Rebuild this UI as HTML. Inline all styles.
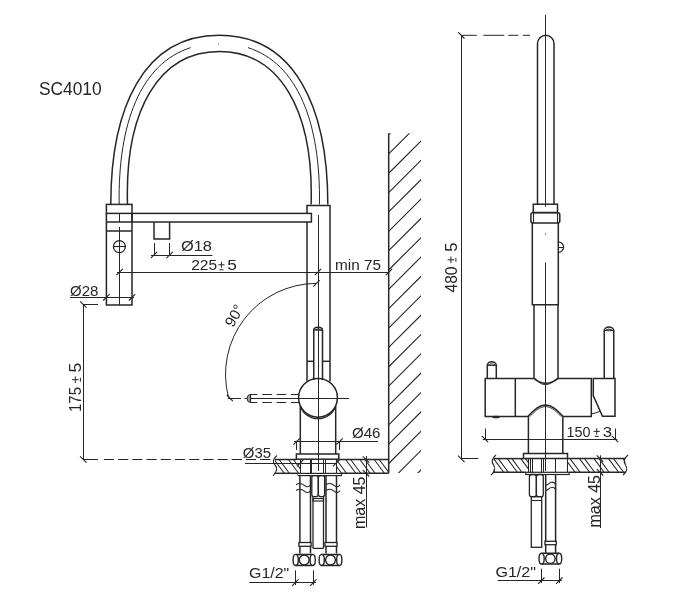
<!DOCTYPE html>
<html><head><meta charset="utf-8"><style>
html,body{margin:0;padding:0;background:#fff;width:675px;height:600px;overflow:hidden}
svg{display:block}
text{font-family:"Liberation Sans",sans-serif}
</style></head><body>
<svg style="will-change:transform" width="675" height="600" viewBox="0 0 675 600">
<rect width="675" height="600" fill="#fff"/>
<path d="M110.80,204.50 C110.69,107.68 143.65,35.30 219.30,35.30 C294.95,35.30 327.91,107.68 327.80,204.50" fill="none" stroke="#262626" stroke-width="1.5" />
<path d="M127.50,204.50 C124.65,109.51 159.29,51.50 219.30,51.50 C279.31,51.50 313.95,109.51 311.10,204.50" fill="none" stroke="#262626" stroke-width="1.5" />
<path d="M119.15,204.50 C117.89,122.88 140.82,63.51 190.64,47.63" fill="none" stroke="#262626" stroke-width="1.0" />
<path d="M247.96,47.63 C297.78,63.51 320.71,122.88 319.45,204.50" fill="none" stroke="#262626" stroke-width="1.0" />
<circle cx="218.4" cy="43.7" r="0.5" fill="#262626"/>
<rect x="106.40" y="204.40" width="25.60" height="9.00" rx="0" fill="none" stroke="#262626" stroke-width="1.5"/>
<path d="M106.4,213.4 V305 H132 V213.4" fill="none" stroke="#262626" stroke-width="1.5" />
<line x1="106.40" y1="222.00" x2="132.00" y2="222.00" stroke="#262626" stroke-width="1.5" />
<line x1="106.40" y1="231.00" x2="132.00" y2="231.00" stroke="#262626" stroke-width="1.5" />
<line x1="119.50" y1="213.40" x2="119.50" y2="222.00" stroke="#262626" stroke-width="1.0" />
<line x1="119.50" y1="227.00" x2="119.50" y2="305.00" stroke="#262626" stroke-width="1.0" />
<circle cx="119.4" cy="246.6" r="6" fill="none" stroke="#262626" stroke-width="1.3"/>
<line x1="113.40" y1="246.50" x2="125.40" y2="246.50" stroke="#262626" stroke-width="1.1" />
<rect x="132.00" y="213.40" width="179.40" height="8.60" rx="0" fill="none" stroke="#262626" stroke-width="1.5"/>
<path d="M154,222 V239 H169.6 V222" fill="none" stroke="#262626" stroke-width="1.5" />
<path d="M307,213.4 V205.4 H330 V381.5" fill="none" stroke="#262626" stroke-width="1.5" />
<path d="M307,222 V381" fill="none" stroke="#262626" stroke-width="1.5" />
<line x1="318.50" y1="215.00" x2="318.50" y2="471.00" stroke="#262626" stroke-width="1.0" />
<line x1="307.00" y1="361.30" x2="313.75" y2="361.30" stroke="#262626" stroke-width="1.5" />
<line x1="322.50" y1="361.30" x2="330.00" y2="361.30" stroke="#262626" stroke-width="1.5" />
<path d="M313.75,380 V330 A4.375,2.8 0 0 1 322.5,330 V380" fill="none" stroke="#262626" stroke-width="1.5" />
<path d="M314.2,330.2 Q318.1,327.6 322,330.2 Z" fill="none" stroke="#262626" stroke-width="1.0" />
<circle cx="318" cy="397.8" r="19.4" fill="none" stroke="#262626" stroke-width="1.5"/>
<path d="M300.3,406 A18.7,18.7 0 0 0 335.7,406" fill="none" stroke="#262626" stroke-width="1.3" />
<line x1="245.50" y1="398.50" x2="349.00" y2="398.50" stroke="#262626" stroke-width="1.0" />
<path d="M250.6,394.5 H298.8" fill="none" stroke="#262626" stroke-width="1.1" stroke-dasharray="6.7 4.9 9.6 4.8 9.6 4.8 9.6 4.8 9.6"/>
<path d="M250.6,402.5 H298.8" fill="none" stroke="#262626" stroke-width="1.1" stroke-dasharray="6.7 4.9 9.6 4.8 9.6 4.8 9.6 4.8 9.6"/>
<path d="M250.6,394.5 A3.5,4 0 0 0 250.6,402.5 Z" fill="#a0a0a0" stroke="#262626" stroke-width="1.0" />
<line x1="250.50" y1="394.50" x2="250.50" y2="402.50" stroke="#262626" stroke-width="1.0" />
<path d="M300.3,406 V454" fill="none" stroke="#262626" stroke-width="1.5" />
<path d="M335.7,406 V454" fill="none" stroke="#262626" stroke-width="1.5" />
<path d="M316.5,283.4 A91,91 0 0 0 228.5,397.5" fill="none" stroke="#262626" stroke-width="1.0" />
<line x1="313.30" y1="286.60" x2="319.70" y2="280.20" stroke="#262626" stroke-width="1.1" />
<line x1="226.80" y1="395.00" x2="232.80" y2="401.00" stroke="#262626" stroke-width="1.1" />
<line x1="228.00" y1="398.50" x2="241.00" y2="398.50" stroke="#262626" stroke-width="1.0" />
<line x1="244.50" y1="398.50" x2="246.50" y2="398.50" stroke="#262626" stroke-width="1.0" />
<text x="0" y="0" font-size="15" fill="#1e1e1e" transform="translate(233,328) rotate(-60)">90°</text>
<line x1="154.50" y1="243.00" x2="154.50" y2="256.00" stroke="#262626" stroke-width="1.0" />
<line x1="169.50" y1="243.00" x2="169.50" y2="256.00" stroke="#262626" stroke-width="1.0" />
<line x1="151.00" y1="255.50" x2="212.40" y2="255.50" stroke="#262626" stroke-width="1.0" />
<line x1="150.80" y1="258.20" x2="157.20" y2="251.80" stroke="#262626" stroke-width="1.1" />
<line x1="166.40" y1="258.20" x2="172.80" y2="251.80" stroke="#262626" stroke-width="1.1" />
<text x="181" y="250.6" font-size="14.5" fill="#262626" text-anchor="start" textLength="31" lengthAdjust="spacingAndGlyphs">Ø18</text>
<line x1="117.00" y1="272.50" x2="389.00" y2="272.50" stroke="#262626" stroke-width="1.0" />
<line x1="116.40" y1="275.20" x2="122.80" y2="268.80" stroke="#262626" stroke-width="1.1" />
<line x1="314.80" y1="275.20" x2="321.20" y2="268.80" stroke="#262626" stroke-width="1.1" />
<line x1="385.80" y1="275.20" x2="392.20" y2="268.80" stroke="#262626" stroke-width="1.1" />
<text x="191.2" y="269.8" font-size="15" fill="#262626" text-anchor="start" textLength="26" lengthAdjust="spacingAndGlyphs">225</text>
<path d="M218.35,264.80 H224.55 M221.45,261.70 V267.90 M219.45,269.80 H223.45" stroke="#262626" stroke-width="1.0" fill="none"/>
<text x="227.3" y="269.8" font-size="15" fill="#262626" text-anchor="start" textLength="9.6" lengthAdjust="spacingAndGlyphs">5</text>
<text x="335" y="270" font-size="15" fill="#262626" text-anchor="start" textLength="46" lengthAdjust="spacingAndGlyphs">min 75</text>
<line x1="70.00" y1="297.50" x2="134.00" y2="297.50" stroke="#262626" stroke-width="1.0" />
<line x1="103.20" y1="300.50" x2="109.60" y2="294.10" stroke="#262626" stroke-width="1.1" />
<line x1="128.80" y1="300.50" x2="135.20" y2="294.10" stroke="#262626" stroke-width="1.1" />
<text x="70" y="296" font-size="14.5" fill="#262626" text-anchor="start" textLength="28.3" lengthAdjust="spacingAndGlyphs">Ø28</text>
<line x1="83.50" y1="304.50" x2="83.50" y2="459.50" stroke="#262626" stroke-width="1.0" />
<line x1="83.30" y1="304.50" x2="98.00" y2="304.50" stroke="#262626" stroke-width="1.0" />
<line x1="80.10" y1="301.30" x2="86.50" y2="307.70" stroke="#262626" stroke-width="1.1" />
<line x1="80.10" y1="456.30" x2="86.50" y2="462.70" stroke="#262626" stroke-width="1.1" />
<text x="81" y="412" font-size="16" fill="#262626" text-anchor="start" textLength="25" lengthAdjust="spacingAndGlyphs" transform="rotate(-90 81 412)">175</text>
<path d="M72.00,379.70 H78.60 M75.30,376.40 V383.00 M73.30,384.80 H77.30" stroke="#262626" stroke-width="1.0" fill="none" transform="rotate(-90 75.3 379.7)"/>
<text x="81" y="372.4" font-size="16" fill="#262626" text-anchor="start" textLength="9.8" lengthAdjust="spacingAndGlyphs" transform="rotate(-90 81 372.4)">5</text>
<path d="M83.3,459.5 H274" fill="none" stroke="#262626" stroke-width="1.2" stroke-dasharray="14.7 5.9 10.2 4.0 10.2 4.0 10.2 4.0 10.2 4.0 10.2 4.0 10.2 4.0 10.2 4.0 10.2 4.0 10.2 4.0 10.2 4.0 10.2 4.0 10.2 4.0 10.2 4.0"/>
<line x1="294.00" y1="441.50" x2="378.00" y2="441.50" stroke="#262626" stroke-width="1.0" />
<line x1="296.50" y1="441.00" x2="296.50" y2="450.00" stroke="#262626" stroke-width="1.0" />
<line x1="339.50" y1="441.00" x2="339.50" y2="450.00" stroke="#262626" stroke-width="1.0" />
<line x1="293.40" y1="444.70" x2="299.80" y2="438.30" stroke="#262626" stroke-width="1.1" />
<line x1="336.30" y1="444.70" x2="342.70" y2="438.30" stroke="#262626" stroke-width="1.1" />
<text x="352" y="437.8" font-size="14.5" fill="#262626" text-anchor="start" textLength="28.5" lengthAdjust="spacingAndGlyphs">Ø46</text>
<text x="242.8" y="457.8" font-size="14.5" fill="#262626" text-anchor="start" textLength="28.2" lengthAdjust="spacingAndGlyphs">Ø35</text>
<line x1="245.00" y1="463.50" x2="336.00" y2="463.50" stroke="#262626" stroke-width="1.0" />
<line x1="296.80" y1="466.40" x2="303.20" y2="460.00" stroke="#262626" stroke-width="1.1" />
<line x1="332.80" y1="466.40" x2="339.20" y2="460.00" stroke="#262626" stroke-width="1.1" />
<clipPath id="c73"><rect x="274.8" y="459.5" width="25.20" height="13.80"/></clipPath>
<path d="M259.80,459.50 L270.01,473.30 M264.80,459.50 L275.01,473.30 M274.10,459.50 L284.31,473.30 M279.10,459.50 L289.31,473.30 M288.40,459.50 L298.61,473.30 M293.40,459.50 L303.61,473.30" stroke="#262626" stroke-width="1.05" fill="none" clip-path="url(#c73)"/>
<clipPath id="c75"><rect x="336" y="459.5" width="52.70" height="13.80"/></clipPath>
<path d="M317.00,459.50 L327.21,473.30 M322.00,459.50 L332.21,473.30 M331.30,459.50 L341.51,473.30 M336.30,459.50 L346.51,473.30 M345.60,459.50 L355.81,473.30 M350.60,459.50 L360.81,473.30 M359.90,459.50 L370.11,473.30 M364.90,459.50 L375.11,473.30 M374.20,459.50 L384.41,473.30 M379.20,459.50 L389.41,473.30 M388.50,459.50 L398.71,473.30 M393.50,459.50 L403.71,473.30" stroke="#262626" stroke-width="1.05" fill="none" clip-path="url(#c75)"/>
<line x1="274.80" y1="459.50" x2="296.40" y2="459.50" stroke="#262626" stroke-width="1.5" />
<line x1="338.80" y1="459.50" x2="388.70" y2="459.50" stroke="#262626" stroke-width="1.5" />
<line x1="274.80" y1="473.30" x2="298.20" y2="473.30" stroke="#262626" stroke-width="1.5" />
<line x1="341.40" y1="473.30" x2="388.70" y2="473.30" stroke="#262626" stroke-width="1.5" />
<line x1="300.50" y1="459.50" x2="300.50" y2="473.30" stroke="#262626" stroke-width="1.1" />
<line x1="336.50" y1="459.50" x2="336.50" y2="473.30" stroke="#262626" stroke-width="1.1" />
<path d="M277,455.5 Q271,461 275,465 Q279,469 273,476" fill="none" stroke="#262626" stroke-width="1.1" />
<rect x="296.40" y="454.00" width="42.40" height="5.20" rx="0" fill="none" stroke="#262626" stroke-width="1.5"/>
<line x1="310.50" y1="459.50" x2="310.50" y2="473.30" stroke="#262626" stroke-width="1.0" />
<line x1="311.50" y1="459.50" x2="311.50" y2="473.30" stroke="#262626" stroke-width="1.0" />
<line x1="323.50" y1="459.50" x2="323.50" y2="473.30" stroke="#262626" stroke-width="1.0" />
<line x1="325.50" y1="459.50" x2="325.50" y2="473.30" stroke="#262626" stroke-width="1.0" />
<rect x="298.20" y="473.40" width="43.20" height="2.20" rx="0" fill="none" stroke="#262626" stroke-width="1.2"/>
<rect x="311.80" y="475.70" width="6.40" height="20.90" rx="2" fill="none" stroke="#262626" stroke-width="1.3"/>
<rect x="318.40" y="475.70" width="6.20" height="20.90" rx="2" fill="none" stroke="#262626" stroke-width="1.3"/>
<line x1="313.00" y1="496.60" x2="313.00" y2="548.40" stroke="#262626" stroke-width="1.3" />
<line x1="323.50" y1="496.60" x2="323.50" y2="548.40" stroke="#262626" stroke-width="1.3" />
<line x1="313.00" y1="548.40" x2="323.50" y2="548.40" stroke="#262626" stroke-width="1.3" />
<rect x="313.00" y="498.50" width="10.50" height="2.50" rx="0" fill="none" stroke="#262626" stroke-width="1.2"/>
<line x1="299.90" y1="475.60" x2="299.90" y2="553.50" stroke="#262626" stroke-width="1.5" />
<line x1="310.50" y1="475.60" x2="310.50" y2="553.50" stroke="#262626" stroke-width="1.5" />
<rect x="298.90" y="542.50" width="12.10" height="3.80" rx="0" fill="#fff" stroke="#262626" stroke-width="1.3"/>
<line x1="326.00" y1="475.60" x2="326.00" y2="553.50" stroke="#262626" stroke-width="1.5" />
<line x1="336.50" y1="475.60" x2="336.50" y2="553.50" stroke="#262626" stroke-width="1.5" />
<rect x="325.00" y="542.50" width="12.00" height="3.80" rx="0" fill="#fff" stroke="#262626" stroke-width="1.3"/>
<path d="M296.00,484.80 c3.62,-2.5 6.53,-1 8.70,0.8 s4.35,1.5 5.80,-0.8" fill="none" stroke="#262626" stroke-width="1.1" />
<path d="M296.00,490.50 c3.62,-2.5 6.53,-1 8.70,0.8 s4.35,1.5 5.80,-0.8" fill="none" stroke="#262626" stroke-width="1.1" />
<path d="M326.00,484.80 c3.50,-2.5 6.30,-1 8.40,0.8 s4.20,1.5 5.60,-0.8" fill="none" stroke="#262626" stroke-width="1.1" />
<path d="M326.00,490.50 c3.50,-2.5 6.30,-1 8.40,0.8 s4.20,1.5 5.60,-0.8" fill="none" stroke="#262626" stroke-width="1.1" />
<path d="M295.70,554.4 H312.70 M295.70,565.5 H312.70" fill="none" stroke="#262626" stroke-width="1.5" />
<ellipse cx="295.70" cy="559.95" rx="2.6" ry="5.55" fill="none" stroke="#262626" stroke-width="1.4"/>
<ellipse cx="312.70" cy="559.95" rx="2.6" ry="5.55" fill="none" stroke="#262626" stroke-width="1.4"/>
<circle cx="304.20000000000005" cy="559.95" r="4.9" fill="none" stroke="#262626" stroke-width="1.4"/>
<path d="M321.70,554.4 H339.30 M321.70,565.5 H339.30" fill="none" stroke="#262626" stroke-width="1.5" />
<ellipse cx="321.70" cy="559.95" rx="2.6" ry="5.55" fill="none" stroke="#262626" stroke-width="1.4"/>
<ellipse cx="339.30" cy="559.95" rx="2.6" ry="5.55" fill="none" stroke="#262626" stroke-width="1.4"/>
<circle cx="330.5" cy="559.95" r="4.9" fill="none" stroke="#262626" stroke-width="1.4"/>
<text x="249" y="578" font-size="15" fill="#262626" text-anchor="start" textLength="40.3" lengthAdjust="spacingAndGlyphs">G1/2"</text>
<line x1="249.30" y1="582.50" x2="316.00" y2="582.50" stroke="#262626" stroke-width="1.0" />
<line x1="295.50" y1="570.30" x2="295.50" y2="585.00" stroke="#262626" stroke-width="1.0" />
<line x1="313.50" y1="570.30" x2="313.50" y2="585.00" stroke="#262626" stroke-width="1.0" />
<line x1="292.10" y1="585.80" x2="298.50" y2="579.40" stroke="#262626" stroke-width="1.1" />
<line x1="310.10" y1="585.80" x2="316.50" y2="579.40" stroke="#262626" stroke-width="1.1" />
<line x1="366.50" y1="456.00" x2="366.50" y2="527.50" stroke="#262626" stroke-width="1.0" />
<line x1="362.80" y1="456.30" x2="369.20" y2="462.70" stroke="#262626" stroke-width="1.1" />
<line x1="362.80" y1="470.10" x2="369.20" y2="476.50" stroke="#262626" stroke-width="1.1" />
<text x="364.5" y="529" font-size="16.2" fill="#262626" text-anchor="start" textLength="52.5" lengthAdjust="spacingAndGlyphs" transform="rotate(-90 364.5 529)">max 45</text>
<clipPath id="wall"><rect x="388.7" y="133.3" width="32.3" height="339.7"/></clipPath>
<path d="M388.7,134.55 l40,-40 M388.7,153.90 l40,-40 M388.7,173.25 l40,-40 M388.7,192.60 l40,-40 M388.7,211.95 l40,-40 M388.7,231.30 l40,-40 M388.7,250.65 l40,-40 M388.7,270.00 l40,-40 M388.7,289.35 l40,-40 M388.7,308.70 l40,-40 M388.7,328.05 l40,-40 M388.7,347.40 l40,-40 M388.7,366.75 l40,-40 M388.7,386.10 l40,-40 M388.7,405.45 l40,-40 M388.7,424.80 l40,-40 M388.7,444.15 l40,-40 M388.7,463.50 l40,-40 M388.7,482.85 l40,-40 M388.7,502.20 l40,-40 M388.7,521.55 l40,-40" stroke="#262626" stroke-width="1.1" fill="none" clip-path="url(#wall)"/>
<line x1="388.70" y1="133.30" x2="388.70" y2="473.30" stroke="#262626" stroke-width="1.5" />
<text x="38.9" y="94.9" font-size="18.5" fill="#262626" text-anchor="start" textLength="62.8" lengthAdjust="spacingAndGlyphs">SC4010</text>
<line x1="545.50" y1="14.80" x2="545.50" y2="206.70" stroke="#262626" stroke-width="1.0" />
<circle cx="545.5" cy="234" r="0.6" fill="#262626"/>
<line x1="545.50" y1="262.50" x2="545.50" y2="471.00" stroke="#262626" stroke-width="1.0" />
<path d="M537.5,204.2 V43.5 A8.25,8.25 0 0 1 554,43.5 V204.2" fill="none" stroke="#262626" stroke-width="1.5" />
<rect x="533.30" y="204.20" width="24.20" height="8.30" rx="0" fill="none" stroke="#262626" stroke-width="1.5"/>
<rect x="530.90" y="212.70" width="28.90" height="10.30" rx="2" fill="none" stroke="#262626" stroke-width="1.5"/>
<line x1="533.50" y1="212.70" x2="533.50" y2="223.00" stroke="#262626" stroke-width="1.1" />
<line x1="557.50" y1="212.70" x2="557.50" y2="223.00" stroke="#262626" stroke-width="1.1" />
<path d="M532.3,222.5 V304.7 H558.3 V222.5" fill="none" stroke="#262626" stroke-width="1.5" />
<path d="M558.3,241.8 A5.3,5.3 0 0 1 558.3,252.4" fill="none" stroke="#262626" stroke-width="1.3" />
<line x1="558.30" y1="247.50" x2="563.30" y2="247.50" stroke="#262626" stroke-width="1.0" />
<path d="M534,304.7 V378.4 C537.5,381.6 541,383.3 545.5,383.3 C550,383.3 554.5,381.6 558,378.4 V304.7" fill="none" stroke="#262626" stroke-width="1.5" />
<path d="M535.6,378.4 C538.5,382.6 541.5,384.6 545.5,384.6 C549.5,384.6 552.5,382.6 556.4,378.4" fill="none" stroke="#262626" stroke-width="0.9" />
<path d="M533.8,378.4 H485.2 V416.5 H527.8 C532.5,412 537.5,405.2 545.5,405 C553.5,405.2 558.5,412 563.2,416.5 H591.3 V378.4 H558" fill="none" stroke="#262626" stroke-width="1.5" />
<line x1="515.30" y1="378.40" x2="515.30" y2="416.50" stroke="#262626" stroke-width="1.5" />
<path d="M529.6,416.8 C534,412.5 538.5,406.8 545.5,406.6 C552.5,406.8 557,412.5 561.4,416.8" fill="none" stroke="#262626" stroke-width="0.9" />
<path d="M487.3,378.4 V365.2 A4.5,3.5 0 0 1 496.3,365.2 V378.4" fill="none" stroke="#262626" stroke-width="1.5" />
<path d="M487.8,365.4 Q491.8,362.2 495.8,365.4 Z" fill="none" stroke="#262626" stroke-width="1.0" />
<ellipse cx="496" cy="417" rx="4" ry="1.3" fill="#262626"/>
<path d="M593.3,378.4 H615 V416.3 H602.5 L593.3,395.8 Z" fill="none" stroke="#262626" stroke-width="1.5" />
<path d="M591.5,414 Q596,413 600,411.3" fill="none" stroke="#262626" stroke-width="1.0" />
<path d="M604.25,378.4 V330.5 A4.75,3.5 0 0 1 613.75,330.5 V378.4" fill="none" stroke="#262626" stroke-width="1.5" />
<path d="M604.8,330.7 Q609,327.5 613.2,330.7 Z" fill="none" stroke="#262626" stroke-width="1.0" />
<line x1="528.40" y1="416.50" x2="528.40" y2="453.50" stroke="#262626" stroke-width="1.5" />
<line x1="562.80" y1="416.50" x2="562.80" y2="453.50" stroke="#262626" stroke-width="1.5" />
<line x1="482.80" y1="439.50" x2="617.30" y2="439.50" stroke="#262626" stroke-width="1.0" />
<line x1="485.50" y1="428.50" x2="485.50" y2="439.00" stroke="#262626" stroke-width="1.0" />
<line x1="615.50" y1="428.50" x2="615.50" y2="439.00" stroke="#262626" stroke-width="1.0" />
<line x1="481.80" y1="435.80" x2="488.20" y2="442.20" stroke="#262626" stroke-width="1.1" />
<line x1="611.80" y1="435.80" x2="618.20" y2="442.20" stroke="#262626" stroke-width="1.1" />
<text x="566.5" y="437.4" font-size="15" fill="#262626" text-anchor="start" textLength="24" lengthAdjust="spacingAndGlyphs">150</text>
<path d="M593.60,431.40 H599.80 M596.70,428.30 V434.50 M594.70,436.30 H598.70" stroke="#262626" stroke-width="1.0" fill="none"/>
<text x="602.8" y="437.4" font-size="15" fill="#262626" text-anchor="start" textLength="9.3" lengthAdjust="spacingAndGlyphs">3</text>
<line x1="461.50" y1="35.30" x2="461.50" y2="458.90" stroke="#262626" stroke-width="1.0" />
<path d="M461.3,35.3 H530" fill="none" stroke="#262626" stroke-width="1.0" stroke-dasharray="15.5 6.5 21 4 10 4.5 8"/>
<line x1="461.30" y1="458.50" x2="478.30" y2="458.50" stroke="#262626" stroke-width="1.0" />
<line x1="458.10" y1="32.10" x2="464.50" y2="38.50" stroke="#262626" stroke-width="1.1" />
<line x1="458.10" y1="455.70" x2="464.50" y2="462.10" stroke="#262626" stroke-width="1.1" />
<text x="457" y="292.6" font-size="16" fill="#262626" text-anchor="start" textLength="26.2" lengthAdjust="spacingAndGlyphs" transform="rotate(-90 457 292.6)">480</text>
<path d="M447.60,259.80 H454.20 M450.90,256.50 V263.10 M448.90,264.80 H452.90" stroke="#262626" stroke-width="1.0" fill="none" transform="rotate(-90 450.9 259.8)"/>
<text x="457" y="251.8" font-size="16" fill="#262626" text-anchor="start" textLength="9.2" lengthAdjust="spacingAndGlyphs" transform="rotate(-90 457 251.8)">5</text>
<rect x="523.50" y="453.50" width="44.00" height="5.00" rx="0" fill="none" stroke="#262626" stroke-width="1.5"/>
<clipPath id="c170"><rect x="493.4" y="458.6" width="35.10" height="13.70"/></clipPath>
<path d="M466.40,458.60 L476.54,472.30 M471.00,458.60 L481.14,472.30 M480.00,458.60 L490.14,472.30 M484.60,458.60 L494.74,472.30 M493.60,458.60 L503.74,472.30 M498.20,458.60 L508.34,472.30 M507.20,458.60 L517.34,472.30 M511.80,458.60 L521.94,472.30 M520.80,458.60 L530.94,472.30 M525.40,458.60 L535.54,472.30" stroke="#262626" stroke-width="1.05" fill="none" clip-path="url(#c170)"/>
<clipPath id="c172"><rect x="567" y="458.6" width="58.30" height="13.70"/></clipPath>
<path d="M550.50,458.60 L560.64,472.30 M555.50,458.60 L565.64,472.30 M565.00,458.60 L575.14,472.30 M570.00,458.60 L580.14,472.30 M579.50,458.60 L589.64,472.30 M584.50,458.60 L594.64,472.30 M594.00,458.60 L604.14,472.30 M599.00,458.60 L609.14,472.30 M608.50,458.60 L618.64,472.30 M613.50,458.60 L623.64,472.30 M623.00,458.60 L633.14,472.30 M628.00,458.60 L638.14,472.30" stroke="#262626" stroke-width="1.05" fill="none" clip-path="url(#c172)"/>
<line x1="493.40" y1="458.60" x2="523.50" y2="458.60" stroke="#262626" stroke-width="1.5" />
<line x1="567.50" y1="458.60" x2="625.30" y2="458.60" stroke="#262626" stroke-width="1.5" />
<line x1="493.40" y1="472.30" x2="525.80" y2="472.30" stroke="#262626" stroke-width="1.5" />
<line x1="569.20" y1="472.30" x2="625.30" y2="472.30" stroke="#262626" stroke-width="1.5" />
<line x1="528.50" y1="458.60" x2="528.50" y2="472.30" stroke="#262626" stroke-width="1.1" />
<line x1="567.50" y1="458.60" x2="567.50" y2="472.30" stroke="#262626" stroke-width="1.1" />
<path d="M496,455 Q490,460 493.5,465 Q497,470 491,475" fill="none" stroke="#262626" stroke-width="1.1" />
<path d="M628,455 Q622,460 625.5,465 Q629,470 623,475" fill="none" stroke="#262626" stroke-width="1.1" />
<line x1="530.50" y1="458.60" x2="530.50" y2="472.30" stroke="#262626" stroke-width="1.0" />
<line x1="532.50" y1="458.60" x2="532.50" y2="472.30" stroke="#262626" stroke-width="1.0" />
<line x1="541.50" y1="458.60" x2="541.50" y2="472.30" stroke="#262626" stroke-width="1.0" />
<line x1="543.50" y1="458.60" x2="543.50" y2="472.30" stroke="#262626" stroke-width="1.0" />
<line x1="555.50" y1="458.60" x2="555.50" y2="472.30" stroke="#262626" stroke-width="1.0" />
<rect x="525.80" y="472.30" width="43.40" height="2.20" rx="0" fill="none" stroke="#262626" stroke-width="1.2"/>
<rect x="529.40" y="474.50" width="6.90" height="22.20" rx="2.2" fill="none" stroke="#262626" stroke-width="1.3"/>
<rect x="536.40" y="474.50" width="6.90" height="22.20" rx="2.2" fill="none" stroke="#262626" stroke-width="1.3"/>
<rect x="531.30" y="496.70" width="10.40" height="50.60" rx="0" fill="none" stroke="#262626" stroke-width="1.3"/>
<line x1="531.30" y1="500.50" x2="541.70" y2="500.50" stroke="#262626" stroke-width="1.1" />
<line x1="545.70" y1="474.50" x2="545.70" y2="553.30" stroke="#262626" stroke-width="1.5" />
<line x1="555.60" y1="474.50" x2="555.60" y2="553.30" stroke="#262626" stroke-width="1.5" />
<path d="M545.7,485.3 c2.6,-0.3 4,-3.2 6.3,-3.2 s3.3,1.5 4.2,2.5" fill="none" stroke="#262626" stroke-width="1.1" />
<path d="M545.7,490.5 c2.6,-0.3 4,-3.2 6.3,-3.2 s3.3,1.5 4.2,2.5" fill="none" stroke="#262626" stroke-width="1.1" />
<rect x="545.00" y="541.30" width="11.30" height="3.40" rx="0" fill="#fff" stroke="#262626" stroke-width="1.3"/>
<path d="M541.60,553.3 H559.10 M541.60,564 H559.10" fill="none" stroke="#262626" stroke-width="1.5" />
<ellipse cx="541.60" cy="558.65" rx="2.6" ry="5.35" fill="none" stroke="#262626" stroke-width="1.4"/>
<ellipse cx="559.10" cy="558.65" rx="2.6" ry="5.35" fill="none" stroke="#262626" stroke-width="1.4"/>
<circle cx="550.35" cy="558.65" r="4.7" fill="none" stroke="#262626" stroke-width="1.4"/>
<text x="495.4" y="577" font-size="15" fill="#262626" text-anchor="start" textLength="40.6" lengthAdjust="spacingAndGlyphs">G1/2"</text>
<line x1="497.70" y1="580.50" x2="561.70" y2="580.50" stroke="#262626" stroke-width="1.0" />
<line x1="541.50" y1="568.70" x2="541.50" y2="583.00" stroke="#262626" stroke-width="1.0" />
<line x1="559.50" y1="568.70" x2="559.50" y2="583.00" stroke="#262626" stroke-width="1.0" />
<line x1="538.10" y1="583.90" x2="544.50" y2="577.50" stroke="#262626" stroke-width="1.1" />
<line x1="556.10" y1="583.90" x2="562.50" y2="577.50" stroke="#262626" stroke-width="1.1" />
<line x1="600.50" y1="455.30" x2="600.50" y2="528.00" stroke="#262626" stroke-width="1.0" />
<line x1="596.80" y1="455.40" x2="603.20" y2="461.80" stroke="#262626" stroke-width="1.1" />
<line x1="596.80" y1="469.10" x2="603.20" y2="475.50" stroke="#262626" stroke-width="1.1" />
<text x="599.8" y="527.5" font-size="16.2" fill="#262626" text-anchor="start" textLength="52.5" lengthAdjust="spacingAndGlyphs" transform="rotate(-90 599.8 527.5)">max 45</text>
</svg></body></html>
